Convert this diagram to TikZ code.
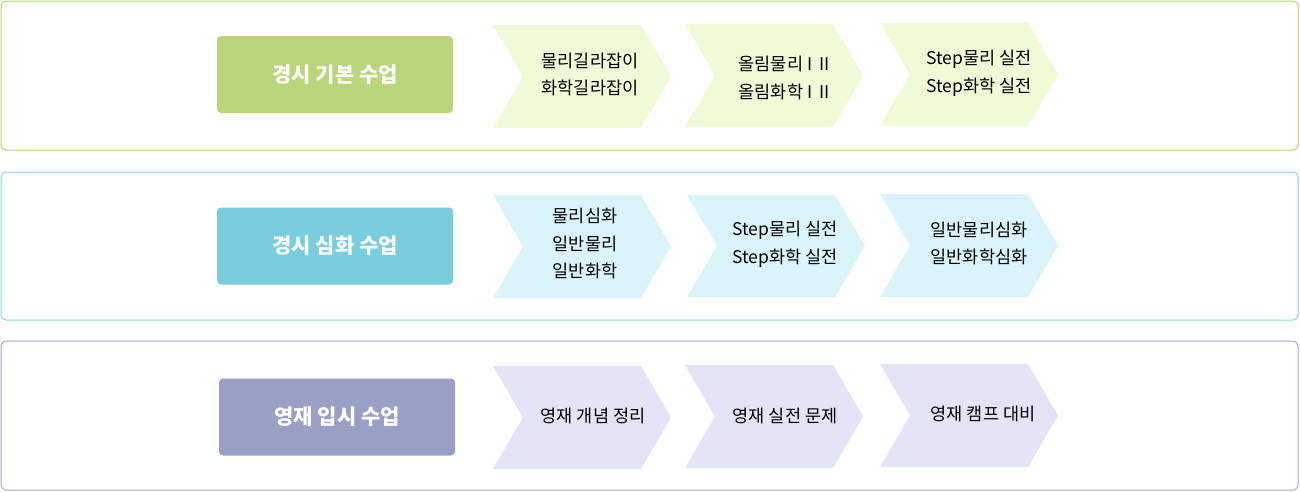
\documentclass[tikz,border=0pt]{standalone}
\usepackage{fontspec}
\setmainfont{Noto Sans CJK KR}
\begin{document}
\begin{tikzpicture}[x=1pt,y=-1pt,
  frame/.style={rounded corners=5pt,line width=1pt,fill=white},
  label/.style={rounded corners=4pt,minimum width=236pt,minimum height=77pt,text=white,font=\fontsize{21}{24}\selectfont\bfseries,inner sep=0pt},
  ctext/.style={align=center,font=\fontsize{17.5}{27.5}\selectfont,text=black,inner sep=0pt}]
\definecolor{g1}{HTML}{B9D67B}
\definecolor{g2}{HTML}{EFFAD7}
\definecolor{t1}{HTML}{79CEDE}
\definecolor{t2}{HTML}{DAF5FA}
\definecolor{p1}{HTML}{9AA0C5}
\definecolor{p2}{HTML}{E3E5F7}
\definecolor{g1f}{HTML}{B5D676}
\definecolor{t1f}{HTML}{8ED4DF}
\definecolor{p1f}{HTML}{A5A9CC}
\useasboundingbox (0,0) rectangle (1300,491);
% frames
\draw[frame,draw=g1f] (1,1) rectangle (1298,150);
\draw[frame,draw=t1f] (1,172) rectangle (1298,320);
\draw[frame,draw=p1f] (1,341) rectangle (1298,490);
% label boxes
\node[label,fill=g1] (l1) at (335,74.5) {경시 기본 수업};
\node[label,fill=t1] (l2) at (335,246) {경시 심화 수업};
\node[label,fill=p1] (l3) at (337,417) {영재 입시 수업};
% chevrons: x0, top, bottom
\newcommand{\chev}[4]{%
  \fill[#4] (#1,#2) -- ({#1+148},#2) -- ({#1+178},{(#2+#3)/2}) -- ({#1+148},#3) -- (#1,#3) -- ({#1+30},{(#2+#3)/2}) -- cycle;}
\chev{493}{25}{128}{g2}
\chev{685}{24}{127}{g2}
\chev{880}{23}{126}{g2}
\chev{493}{195}{298}{t2}
\chev{687}{195}{297}{t2}
\chev{880}{194}{297}{t2}
\chev{493}{366}{469}{p2}
\chev{685}{365}{468}{p2}
\chev{880}{364}{467}{p2}
% texts
\node[ctext] (a1) at (590,74.5) {물리길라잡이\\화학길라잡이};
\node[ctext] (a2) at (784,78) {올림물리 I\, II\\올림화학 I\, II};
\node[ctext] (a3) at (979,73.5) {Step물리 실전\\Step화학 실전};
\node[ctext] (b1) at (585,243.5) {물리심화\\일반물리\\일반화학};
\node[ctext] (b2) at (785,244.5) {Step물리 실전\\Step화학 실전};
\node[ctext] (b3) at (979,243.5) {일반물리심화\\일반화학심화};
\node[ctext] (c1) at (593,416) {영재 개념 정리};
\node[ctext] (c2) at (785,416) {영재 실전 문제};
\node[ctext] (c3) at (983,414) {영재 캠프 대비};
\end{tikzpicture}
\end{document}
